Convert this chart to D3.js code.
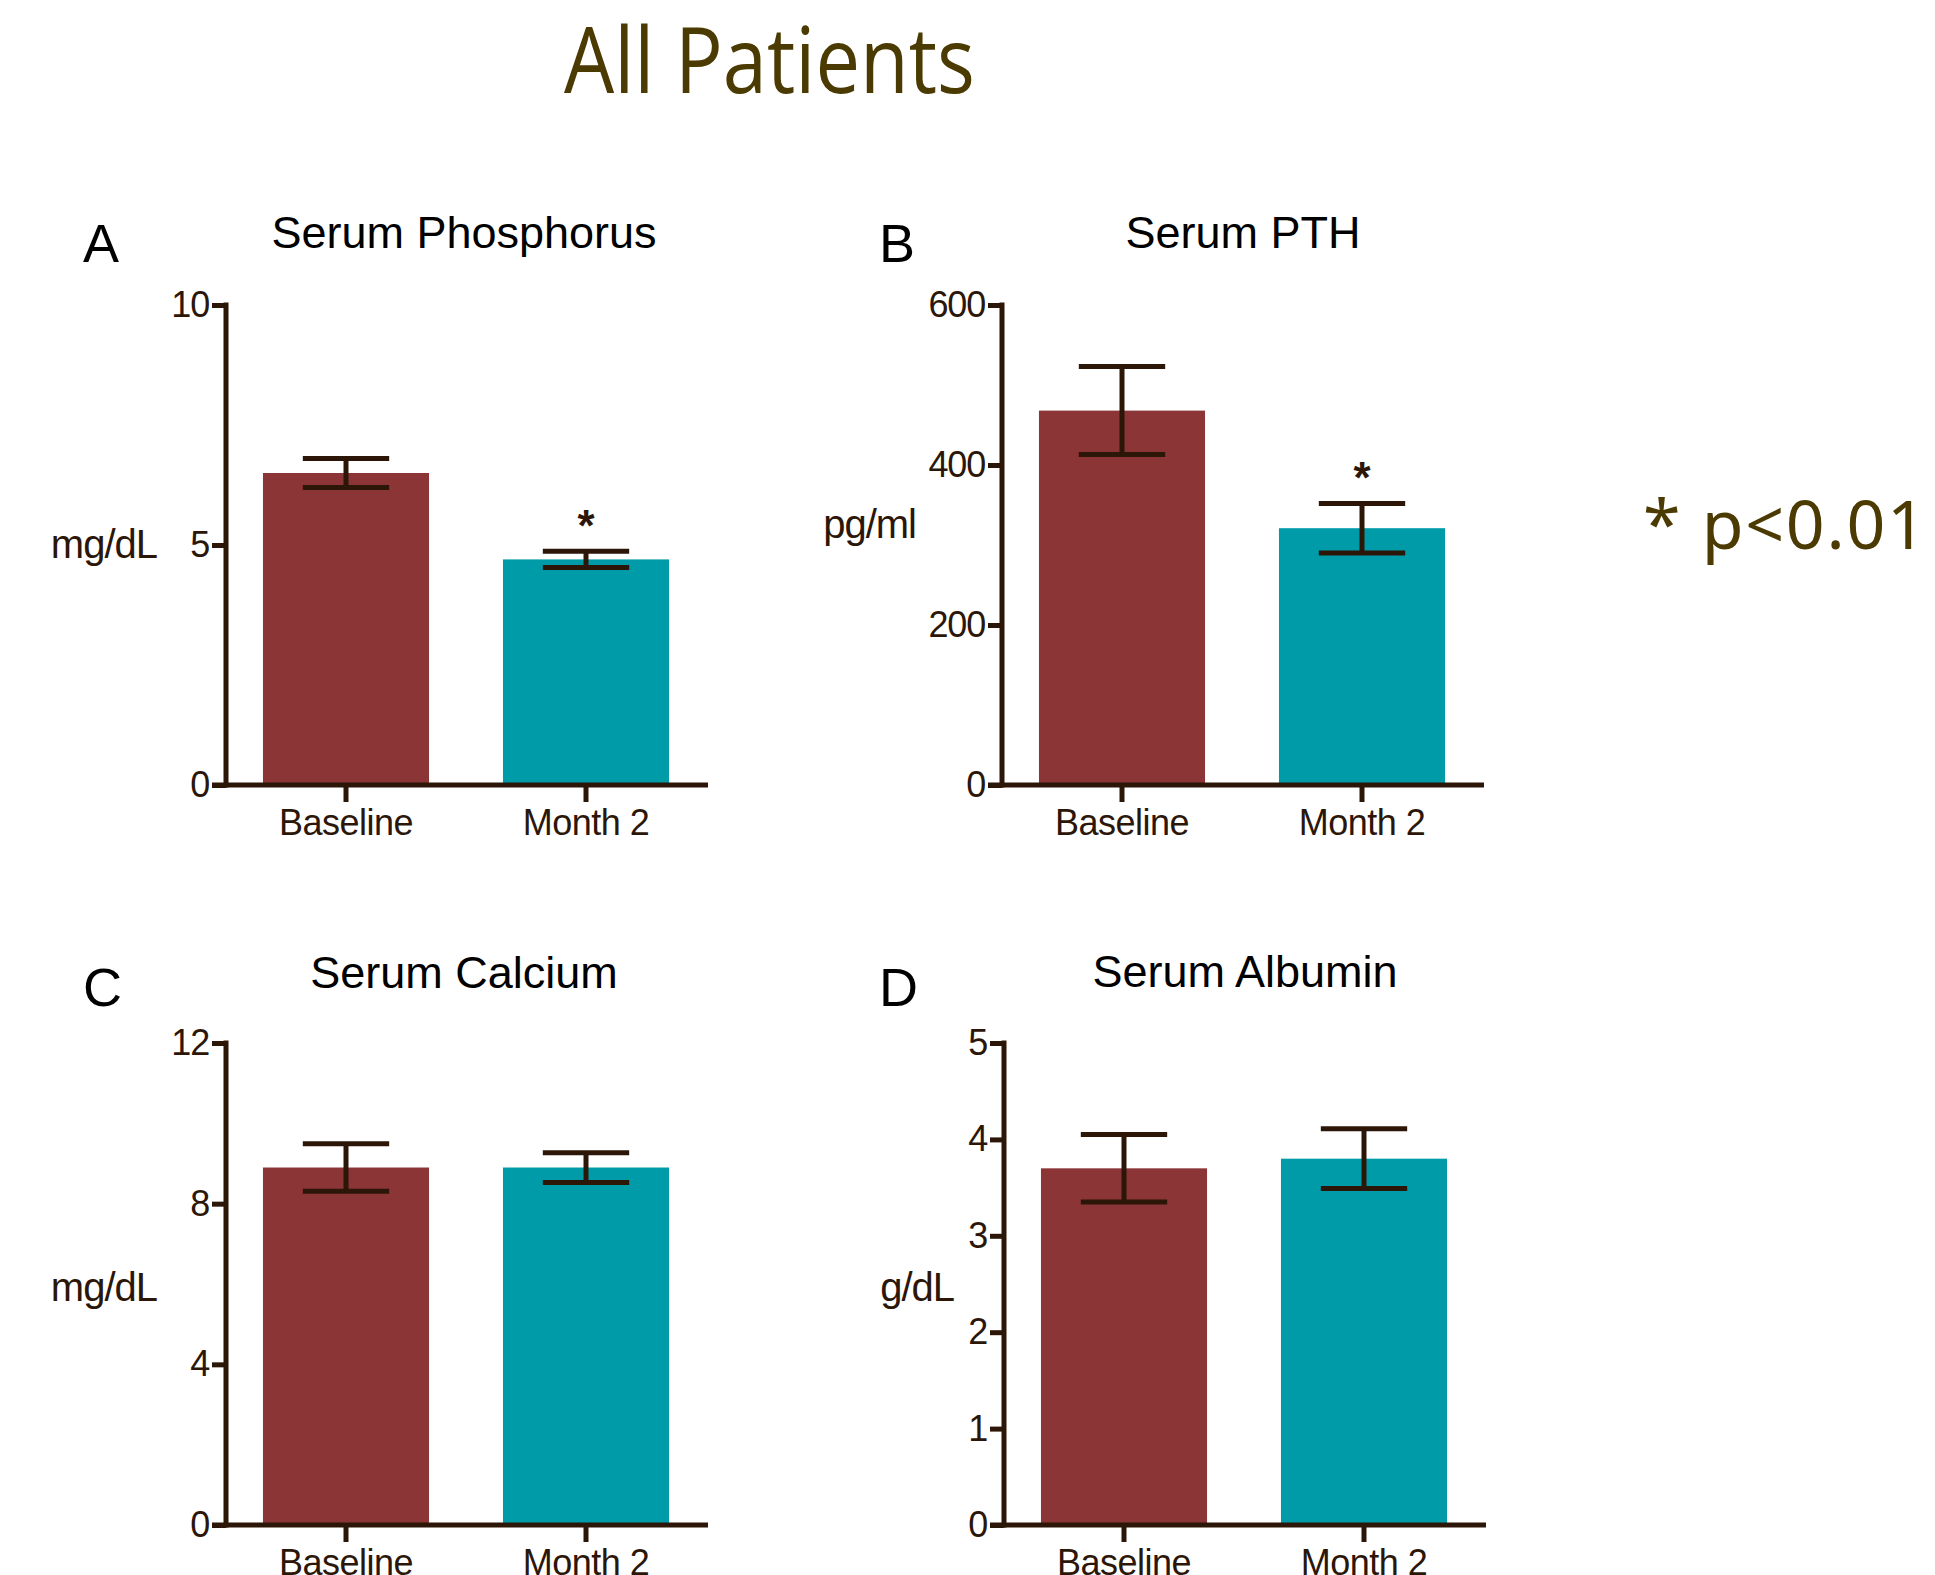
<!DOCTYPE html>
<html>
<head>
<meta charset="utf-8">
<script src="https://cdn.jsdelivr.net/npm/d3@7"></script>
<style>
  html, body { margin: 0; padding: 0; background: #fff; }
  svg { display: block; }
</style>
</head>
<body>
<svg id="chart" width="1935" height="1575"></svg>
<script>
// ---------- data ----------
const categories = ["Baseline", "Month 2"];
const panelLetters = ["A", "B", "C", "D"];
const panelTitles = ["Serum Phosphorus", "Serum PTH", "Serum Calcium", "Serum Albumin"];
const unitLabels = ["mg/dL", "pg/ml", "mg/dL", "g/dL"];

const phosphorusMeans = [6.5, 4.7];
const phosphorusErr = [0.3, 0.17];
const pthMeans = [468, 321];
const pthErr = [55, 31];
const calciumMeans = [8.9, 8.9];
const calciumErr = [0.59, 0.37];
const albuminMeans = [3.7, 3.8];
const albuminErr = [0.35, 0.31];

const phosphorusTicks = [0, 5, 10];
const pthTicks = [0, 200, 400, 600];
const calciumTicks = [0, 4, 8, 12];
const albuminTicks = [0, 1, 2, 3, 4, 5];

const significant = [[false, true], [false, true], [false, false], [false, false]];
const mainTitle = "All Patients";
const noteText = "* p<0.01";

// ---------- layout ----------
const colors = ["#8c3537", "#009ba8"];
const ink = "#2b1608";
const olive = "#4b3a02";

const panels = [
  { means: phosphorusMeans, err: phosphorusErr, ticks: phosphorusTicks, ax: 226, top: 305, bot: 785,
    unitX: 157, unitY: 544, letterX: 83, letterY: 262, titleX: 464, titleY: 248 },
  { means: pthMeans, err: pthErr, ticks: pthTicks, ax: 1002, top: 305, bot: 785,
    unitX: 916, unitY: 524, letterX: 879, letterY: 262, titleX: 1243, titleY: 248 },
  { means: calciumMeans, err: calciumErr, ticks: calciumTicks, ax: 226, top: 1043, bot: 1525,
    unitX: 157, unitY: 1287, letterX: 83, letterY: 1006, titleX: 464, titleY: 988 },
  { means: albuminMeans, err: albuminErr, ticks: albuminTicks, ax: 1004, top: 1043, bot: 1525,
    unitX: 954, unitY: 1287, letterX: 879, letterY: 1006, titleX: 1245, titleY: 987 }
];

const svg = d3.select("#chart");
svg.append("rect").attr("width", 1935).attr("height", 1575).attr("fill", "#fff");

// main title
svg.append("text")
  .attr("x", 564).attr("y", 93)
  .attr("font-family", "'Open Sans', 'Noto Sans', sans-serif")
  .attr("font-size", 91)
  .attr("fill", olive)
  .attr("textLength", 411).attr("lengthAdjust", "spacingAndGlyphs")
  .text(mainTitle);

// p-value note
svg.append("text")
  .attr("x", 1643).attr("y", 549)
  .attr("font-family", "'Noto Sans', 'Open Sans', sans-serif")
  .attr("font-size", 68)
  .attr("fill", olive)
  .attr("textLength", 283).attr("lengthAdjust", "spacing")
  .text(noteText);

const fontMain = "'Liberation Sans', Arial, Helvetica, sans-serif";

panels.forEach((p, i) => {
  const g = svg.append("g");
  const xEnd = p.ax + 482;
  const x = d3.scaleBand().domain(categories).range([p.ax, p.ax + 480])
    .paddingInner(0.308).paddingOuter(0.154);
  const y = d3.scaleLinear().domain([0, d3.max(p.ticks)]).range([p.bot, p.top]);

  // bars
  g.selectAll("rect.bar").data(categories).join("rect")
    .attr("class", "bar")
    .attr("x", d => x(d))
    .attr("width", x.bandwidth())
    .attr("y", (d, j) => y(p.means[j]))
    .attr("height", (d, j) => y(0) - y(p.means[j]))
    .attr("fill", (d, j) => colors[j]);

  // error bars
  const capW = x.bandwidth() * 0.52;
  categories.forEach((c, j) => {
    const cx = x(c) + x.bandwidth() / 2;
    const hi = y(p.means[j] + p.err[j]);
    const lo = y(p.means[j] - p.err[j]);
    g.append("line").attr("x1", cx).attr("x2", cx).attr("y1", hi).attr("y2", lo)
      .attr("stroke", ink).attr("stroke-width", 5);
    [hi, lo].forEach(yy => {
      g.append("line").attr("x1", cx - capW / 2).attr("x2", cx + capW / 2)
        .attr("y1", yy).attr("y2", yy)
        .attr("stroke", ink).attr("stroke-width", 5);
    });
    if (significant[i][j]) {
      g.append("text")
        .attr("x", cx).attr("y", hi - 10)
        .attr("text-anchor", "middle")
        .attr("font-family", fontMain)
        .attr("font-weight", "bold")
        .attr("font-size", 44)
        .attr("fill", ink)
        .text("*");
    }
  });

  // y axis
  const yAxis = d3.axisLeft(y).tickValues(p.ticks).tickFormat(d3.format("d"))
    .tickSize(14).tickSizeOuter(0).tickPadding(3);
  const ya = g.append("g").attr("transform", `translate(${p.ax},0)`).call(yAxis);
  ya.select(".domain").remove();
  ya.selectAll(".tick line").attr("stroke", ink).attr("stroke-width", 5);
  ya.selectAll(".tick text").attr("font-family", fontMain).attr("font-size", 36)
    .attr("fill", ink).attr("letter-spacing", -1.2);
  g.append("line").attr("x1", p.ax).attr("x2", p.ax).attr("y1", p.top - 2.5).attr("y2", p.bot + 2.5)
    .attr("stroke", ink).attr("stroke-width", 5);

  // x axis
  const xAxis = d3.axisBottom(x).tickSize(17).tickSizeOuter(0).tickPadding(7);
  const xa = g.append("g").attr("transform", `translate(0,${p.bot})`).call(xAxis);
  xa.select(".domain").remove();
  xa.selectAll(".tick line").attr("stroke", ink).attr("stroke-width", 5);
  xa.selectAll(".tick text").attr("font-family", fontMain).attr("font-size", 36)
    .attr("fill", ink).attr("letter-spacing", -0.5);
  g.append("line").attr("x1", p.ax - 14).attr("x2", xEnd).attr("y1", p.bot).attr("y2", p.bot)
    .attr("stroke", ink).attr("stroke-width", 5);

  // unit label
  g.append("text")
    .attr("x", p.unitX).attr("y", p.unitY)
    .attr("dy", "0.35em")
    .attr("text-anchor", "end")
    .attr("font-family", fontMain)
    .attr("font-size", 40)
    .attr("fill", ink)
    .attr("letter-spacing", -1)
    .text(unitLabels[i]);

  // panel letter
  g.append("text")
    .attr("x", p.letterX).attr("y", p.letterY)
    .attr("font-family", fontMain)
    .attr("font-size", 54)
    .attr("fill", "#000")
    .text(panelLetters[i]);

  // panel title
  g.append("text")
    .attr("x", p.titleX).attr("y", p.titleY)
    .attr("text-anchor", "middle")
    .attr("font-family", fontMain)
    .attr("font-size", 45)
    .attr("fill", "#000")
    .text(panelTitles[i]);
});
</script>
</body>
</html>
